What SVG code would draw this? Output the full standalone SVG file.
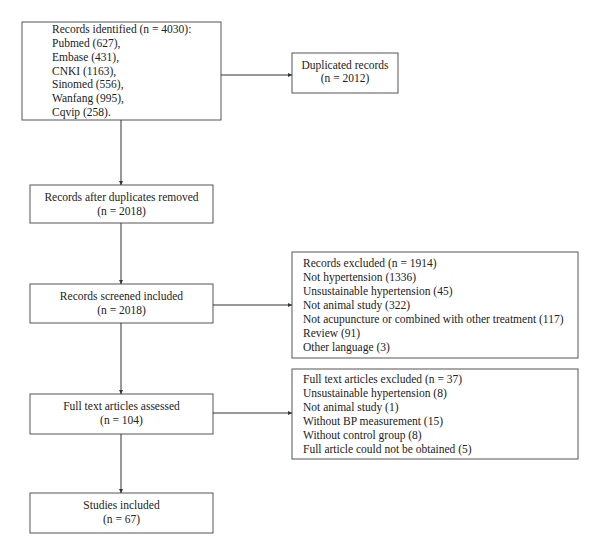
<svg xmlns="http://www.w3.org/2000/svg" width="600" height="554" viewBox="0 0 600 554">
<style>
rect{fill:#fff;stroke:#555;stroke-width:1}
text{font-family:"Liberation Serif","Times New Roman",serif;font-size:11.5px;fill:#222}
.c{text-anchor:middle}
.conn line{stroke:#333;stroke-width:1;marker-end:url(#ah)}
</style>
<defs>
<marker id="ah" viewBox="0 0 6 6" refX="6" refY="3" markerWidth="4" markerHeight="4" orient="auto" markerUnits="userSpaceOnUse">
<path d="M0,0 L6,3 L0,6 z" fill="#333"/>
</marker>
</defs>
<rect x="0" y="0" width="600" height="554" style="stroke:none"/>
<g id="identified">
<rect x="22" y="22" width="199" height="98"/>
<text x="52" y="33">Records identified (n = 4030):</text>
<text x="52" y="47">Pubmed (627),</text>
<text x="52" y="61">Embase (431),</text>
<text x="52" y="75">CNKI (1163),</text>
<text x="52" y="88">Sinomed (556),</text>
<text x="52" y="102">Wanfang (995),</text>
<text x="52" y="116">Cqvip (258).</text>
</g>
<g id="duplicated">
<rect x="292" y="53" width="106" height="40"/>
<text class="c" x="345" y="69">Duplicated records</text>
<text class="c" x="345" y="82">(n = 2012)</text>
</g>
<g id="after">
<rect x="30" y="185" width="183" height="38"/>
<text class="c" x="121.5" y="201">Records after duplicates removed</text>
<text class="c" x="121.5" y="215">(n = 2018)</text>
</g>
<g id="screened">
<rect x="30" y="284" width="183" height="39"/>
<text class="c" x="121.5" y="300">Records screened included</text>
<text class="c" x="121.5" y="314">(n = 2018)</text>
</g>
<g id="excluded">
<rect x="292" y="252" width="286" height="106"/>
<text x="303" y="267">Records excluded (n = 1914)</text>
<text x="303" y="281">Not hypertension (1336)</text>
<text x="303" y="295">Unsustainable hypertension (45)</text>
<text x="303" y="309">Not animal study (322)</text>
<text x="303" y="323">Not acupuncture or combined with other treatment (117)</text>
<text x="303" y="337">Review (91)</text>
<text x="303" y="351">Other language (3)</text>
</g>
<g id="fulltext">
<rect x="30" y="394" width="183" height="40"/>
<text class="c" x="121.5" y="410">Full text articles assessed</text>
<text class="c" x="121.5" y="424">(n = 104)</text>
</g>
<g id="ftexcluded">
<rect x="292" y="369" width="286" height="90"/>
<text x="303" y="383">Full text articles excluded (n = 37)</text>
<text x="303" y="397">Unsustainable hypertension (8)</text>
<text x="303" y="411">Not animal study (1)</text>
<text x="303" y="425">Without BP measurement (15)</text>
<text x="303" y="439">Without control group (8)</text>
<text x="303" y="453">Full article could not be obtained (5)</text>
</g>
<g id="included">
<rect x="30" y="493" width="183" height="40"/>
<text class="c" x="121.5" y="509">Studies included</text>
<text class="c" x="121.5" y="523">(n = 67)</text>
</g>
<g class="conn" id="connectors">
<line x1="221" y1="75" x2="292" y2="75"/>
<line x1="121" y1="120" x2="121" y2="185"/>
<line x1="121" y1="223" x2="121" y2="284"/>
<line x1="213" y1="305" x2="292" y2="305"/>
<line x1="121" y1="323" x2="121" y2="394"/>
<line x1="213" y1="413" x2="292" y2="413"/>
<line x1="121" y1="434" x2="121" y2="493"/>
</g>
</svg>
